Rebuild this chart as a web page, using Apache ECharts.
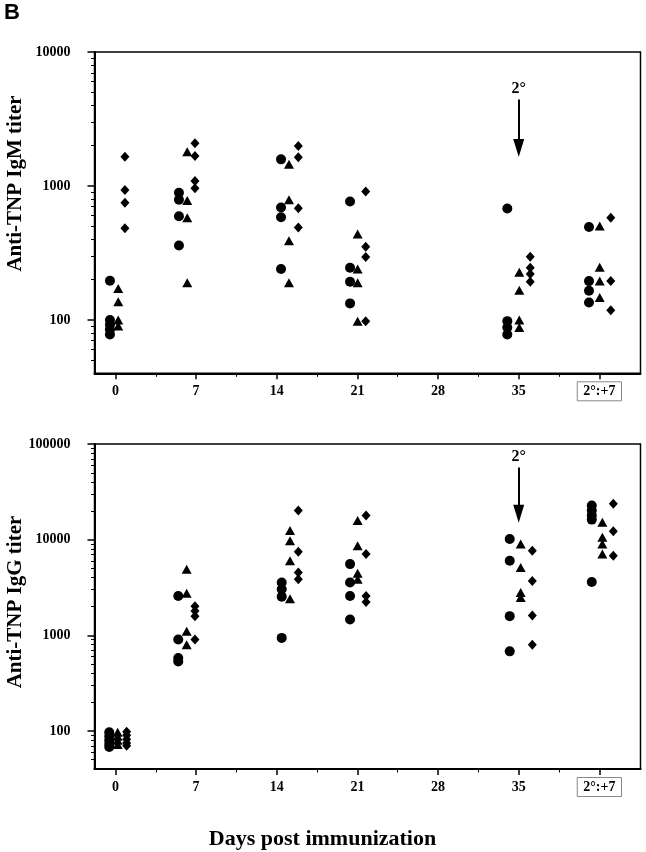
<!DOCTYPE html>
<html><head><meta charset="utf-8">
<script src="https://cdn.jsdelivr.net/npm/echarts@6/dist/echarts.min.js"></script>
<style>html,body{margin:0;padding:0;background:#fff}#c{width:646px;height:852px}</style>
</head><body><div id="c"></div>
<script>
// ---- axis ticks / labels ----
const xTickValues = [0, 7, 14, 21, 28, 35, 42];
const xTickLabels = ['0', '7', '14', '21', '28', '35', '2°:+7'];
const xMinorTicks = [3.5, 10.5, 17.5, 24.5, 31.5, 38.5];
const igmTickValues = [100, 1000, 10000];
const igmMinorTicks = [50, 60, 70, 80, 90, 200, 300, 400, 500, 600, 700, 800, 900, 2000, 3000, 4000, 5000, 6000, 7000, 8000, 9000];
const iggTickValues = [100, 1000, 10000, 100000];
const iggMinorTicks = [50, 60, 70, 80, 90, 200, 300, 400, 500, 600, 700, 800, 900, 2000, 3000, 4000, 5000, 6000, 7000, 8000, 9000, 20000, 30000, 40000, 50000, 60000, 70000, 80000, 90000];

// ---- IgM titers (top panel) : plotted day position of each group, titers per group ----
const igmCircleDay = [-0.48, 5.51, 14.37, 20.36, 34.01, 41.1];
const igmCircleTiter = [[196, 100, 92, 85, 78], [890, 790, 595, 360], [1580, 690, 585, 240], [765, 245, 193, 133], [680, 98, 88, 78], [494, 195, 165, 135]];
const igmTriangleDay = [0.24, 6.23, 15.06, 21.02, 35.05, 42.03];
const igmTriangleTiter = [[172, 137, 100, 90], [1800, 780, 580, 190], [1450, 790, 390, 190], [438, 240, 190, 98], [227, 167, 100, 88], [502, 247, 195, 147]];
const igmDiamondDay = [0.82, 6.9, 15.87, 21.72, 36.0, 42.99];
const igmDiamondTiter = [[1656, 933, 750, 483], [2083, 1675, 1089, 961], [1991, 1637, 682, 489], [908, 352, 295, 98], [297, 245, 220, 193], [579, 195, 118]];

// ---- IgG titers (bottom panel) ----
const iggCircleDay = [-0.54, 5.45, 14.43, 20.36, 34.22, 41.34];
const iggCircleTiter = [[97, 88, 80, 73, 68], [2576, 902, 578, 532], [3560, 3026, 2535, 939], [5550, 3560, 2576, 1462], [10170, 6010, 1586, 679], [22800, 20200, 17900, 16200, 3610]];
const iggTriangleDay = [0.19, 6.18, 15.15, 21.02, 35.17, 42.26];
const iggTriangleTiter = [[97, 88, 80, 72], [4910, 2750, 1102, 798], [12440, 9760, 6010, 2414], [15850, 8650, 4460, 3854], [9010, 5120, 2795, 2477], [15230, 10600, 9010, 7070]];
const iggDiamondDay = [0.97, 6.9, 15.87, 21.75, 36.18, 43.21];
const iggDiamondTiter = [[98, 90, 82, 75, 70], [2018, 1790, 1586, 902], [20200, 7480, 4540, 3854], [17900, 7070, 2576, 2230], [7660, 3700, 1610, 798], [23760, 12250, 6800]];

function pts(days, titers) {
  const out = [];
  days.forEach((d, i) => titers[i].forEach(v => out.push([d, v])));
  return out;
}

const SERIF = '"Liberation Serif", "Times New Roman", serif';
const X_MIN = -1.82, X_MAX = 45.57;

function xMajor(grid) {
  return {
    gridIndex: grid, type: 'value', min: X_MIN, max: X_MAX, position: 'bottom',
    axisLine: { show: true, onZero: false, lineStyle: { color: '#000', width: 2 } },
    axisTick: { show: true, customValues: xTickValues, length: 6, lineStyle: { color: '#000', width: 1.5 } },
    axisLabel: {
      customValues: xTickValues, margin: 18, verticalAlign: 'middle',
      color: '#000', fontFamily: SERIF, fontWeight: 'bold', fontSize: 14,
      formatter: v => {
        const i = xTickValues.indexOf(v);
        const t = i >= 0 ? xTickLabels[i] : '';
        return v === 42 ? '{box|' + t + '}' : t;
      },
      rich: { box: { borderColor: '#888', borderWidth: 1, padding: [3, 6, 2, 6], color: '#000', fontFamily: SERIF, fontWeight: 'bold', fontSize: 14 } }
    },
    splitLine: { show: false }
  };
}
function xMinor(grid) {
  return {
    gridIndex: grid, type: 'value', min: X_MIN, max: X_MAX, position: 'bottom',
    axisLine: { show: false, onZero: false },
    axisTick: { show: true, customValues: xMinorTicks, length: 3.5, lineStyle: { color: '#000', width: 1 } },
    axisLabel: { show: false }, splitLine: { show: false }
  };
}
function yMajor(grid, max, ticks) {
  return {
    gridIndex: grid, type: 'log', logBase: 10, min: 40, max: max, position: 'left',
    axisLine: { show: true, onZero: false, lineStyle: { color: '#000', width: 2 } },
    axisTick: { show: true, customValues: ticks, length: 7, lineStyle: { color: '#000', width: 1.5 } },
    axisLabel: { customValues: ticks, margin: 24, color: '#000', fontFamily: SERIF, fontWeight: 'bold', fontSize: 14, formatter: v => String(Math.round(v)) },
    splitLine: { show: false }
  };
}
function yMinor(grid, max, ticks) {
  return {
    gridIndex: grid, type: 'log', logBase: 10, min: 40, max: max, position: 'left',
    axisLine: { show: false, onZero: false },
    axisTick: { show: true, customValues: ticks, length: 3.5, lineStyle: { color: '#000', width: 1 } },
    axisLabel: { show: false }, splitLine: { show: false }
  };
}
function scat(xi, name, symbol, size, data, extra) {
  return Object.assign({
    type: 'scatter', name: name, xAxisIndex: xi, yAxisIndex: xi, symbol: symbol, symbolSize: size,
    data: data, itemStyle: { color: '#000', opacity: 1 }, silent: true
  }, extra || {});
}
function arrow(fromV, toV) {
  return {
    silent: true, animation: false,
    lineStyle: { color: '#000', width: 2, type: 'solid', opacity: 1 },
    itemStyle: { color: '#000', opacity: 1 },
    label: { show: true, position: 'start', formatter: '2°', color: '#000', fontFamily: SERIF, fontWeight: 'bold', fontSize: 16, distance: 3 },
    emphasis: { disabled: true },
    data: [[
      { coord: [35, fromV], symbol: 'none' },
      { coord: [35, toV], symbol: 'triangle', symbolSize: [11, 18] }
    ]]
  };
}

const chart = echarts.init(document.getElementById('c'), null, { renderer: 'canvas' });
chart.setOption({
  animation: false,
  backgroundColor: '#fff',
  grid: [
    { left: 94.5, right: 5.5, top: 52, height: 321.3, show: true, borderColor: '#000', borderWidth: 1.5, containLabel: false },
    { left: 94.5, right: 5.5, top: 444, height: 325, show: true, borderColor: '#000', borderWidth: 1.5, containLabel: false }
  ],
  xAxis: [xMajor(0), xMinor(0), xMajor(1), xMinor(1)],
  yAxis: [yMajor(0, 10000, igmTickValues), yMinor(0, 10000, igmMinorTicks), yMajor(1, 100000, iggTickValues), yMinor(1, 100000, iggMinorTicks)],
  series: [
    scat(0, 'IgM circle', 'circle', 10, pts(igmCircleDay, igmCircleTiter)),
    scat(0, 'IgM triangle', 'triangle', [10, 9], pts(igmTriangleDay, igmTriangleTiter), { markLine: arrow(4420, 1920) }),
    scat(0, 'IgM diamond', 'diamond', [9, 10], pts(igmDiamondDay, igmDiamondTiter)),
    scat(2, 'IgG circle', 'circle', 10, pts(iggCircleDay, iggCircleTiter)),
    scat(2, 'IgG triangle', 'triangle', [10, 9], pts(iggTriangleDay, iggTriangleTiter), { markLine: arrow(56900, 18600) }),
    scat(2, 'IgG diamond', 'diamond', [9, 10], pts(iggDiamondDay, iggDiamondTiter))
  ],
  graphic: [
    { type: 'text', x: 4, y: 2, style: { text: 'B', fill: '#000', font: 'bold 22px "Liberation Sans", Arial, sans-serif', textVerticalAlign: 'top' } },
    { type: 'text', x: 15.5, y: 183.5, rotation: Math.PI / 2, style: { text: 'Anti-TNP IgM titer', fill: '#000', font: 'bold 21px ' + SERIF, textAlign: 'center', textVerticalAlign: 'middle' } },
    { type: 'text', x: 16, y: 602, rotation: Math.PI / 2, style: { text: 'Anti-TNP IgG titer', fill: '#000', font: 'bold 21px ' + SERIF, textAlign: 'center', textVerticalAlign: 'middle' } },
    { type: 'text', x: 322.5, y: 839, style: { text: 'Days post immunization', fill: '#000', font: 'bold 22px ' + SERIF, textAlign: 'center', textVerticalAlign: 'middle' } }
  ]
});
</script></body></html>
